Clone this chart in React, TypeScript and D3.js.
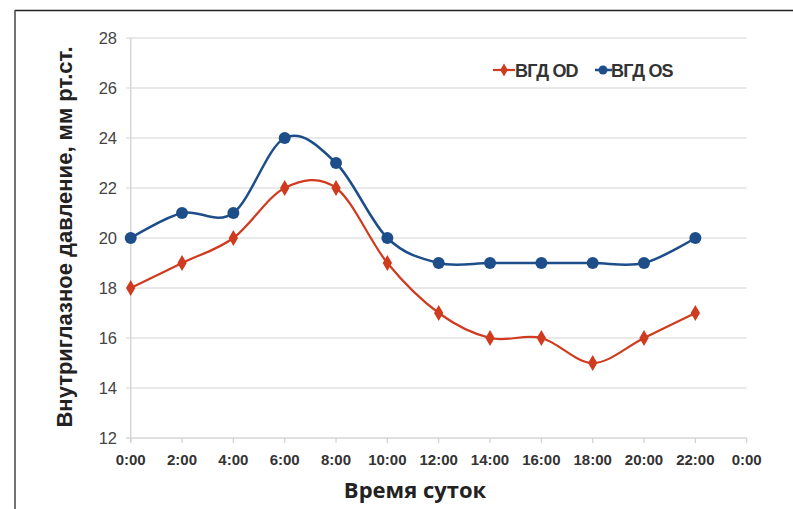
import React from "react";
import * as d3 from "d3";

const hours = [0, 2, 4, 6, 8, 10, 12, 14, 16, 18, 20, 22];
const xTickHours = [0, 2, 4, 6, 8, 10, 12, 14, 16, 18, 20, 22, 24];
const xTickLabels = ["0:00", "2:00", "4:00", "6:00", "8:00", "10:00", "12:00", "14:00", "16:00", "18:00", "20:00", "22:00", "0:00"];
const yTicks = [12, 14, 16, 18, 20, 22, 24, 26, 28];
const odValues = [18, 19, 20, 22, 22, 19, 17, 16, 16, 15, 16, 17];
const osValues = [20, 21, 21, 24, 23, 20, 19, 19, 19, 19, 19, 20];
const seriesNames = ["ВГД OD", "ВГД OS"];

const RED = "#D03A1E";
const BLUE = "#1E4E89";

export default function App() {
  const W = 793, H = 509;
  const x = d3.scaleLinear().domain([0, 24]).range([130.7, 746.7]);
  const y = d3.scaleLinear().domain([12, 28]).range([438, 38]);
  const line = d3
    .line<number>()
    .x((_, i) => x(hours[i]))
    .y((d) => y(d))
    .curve(d3.curveCardinal.tension(0));
  const diamond = d3.symbol().type(d3.symbolDiamond).size(75)();

  return (
    <svg width={W} height={H} style={{ position: "absolute", left: 0, top: 0, background: "#fff" }}>
      <rect x={0} y={0} width={W} height={H} fill="#fff" />
      {/* frame */}
      <line x1={15} y1={10.5} x2={W} y2={10.5} stroke="#222" strokeWidth={1.5} />
      <line x1={15} y1={10} x2={15} y2={H} stroke="#444" strokeWidth={1.5} />
      {/* gridlines */}
      {yTicks.map((t) => (
        <line key={"g" + t} x1={126} x2={746.7} y1={y(t)} y2={y(t)} stroke={t === 12 ? "#d6d6d6" : "#e2e2e2"} strokeWidth={1.5} />
      ))}
      {/* y axis */}
      <line x1={130.7} x2={130.7} y1={y(28)} y2={y(12) + 4} stroke="#d6d6d6" strokeWidth={1.5} />
      {xTickHours.map((h) => (
        <line key={"t" + h} x1={x(h)} x2={x(h)} y1={y(12)} y2={y(12) + 5} stroke="#d0d0d0" strokeWidth={1.2} />
      ))}
      {yTicks.map((t) => (
        <text key={"yl" + t} x={117} y={y(t) + 6} textAnchor="end" fontFamily="Liberation Sans, Arial, sans-serif" fontSize={16.5} fill="#444">
          {t}
        </text>
      ))}
      {xTickHours.map((h, i) => (
        <text key={"xl" + i} x={x(h)} y={464.5} textAnchor="middle" fontFamily="Liberation Sans, Arial, sans-serif" fontWeight="bold" fontSize={15} fill="#333">
          {xTickLabels[i]}
        </text>
      ))}
      {/* axis titles */}
      <text x={415} y={498} textAnchor="middle" fontFamily="Open Sans, sans-serif" fontWeight="bold" fontSize={22} fill="#222">
        Время суток
      </text>
      <text
        transform={`translate(72, 237) rotate(-90)`}
        textAnchor="middle"
        fontFamily="Liberation Sans, Arial, sans-serif"
        fontWeight="bold"
        fontSize={22}
        fill="#222"
      >
        Внутриглазное давление, мм рт.ст.
      </text>
      {/* series */}
      <path d={line(osValues) || ""} fill="none" stroke={BLUE} strokeWidth={2.5} />
      <path d={line(odValues) || ""} fill="none" stroke={RED} strokeWidth={2.2} />
      {osValues.map((v, i) => (
        <circle key={"os" + i} cx={x(hours[i])} cy={y(v)} r={6} fill={BLUE} />
      ))}
      {odValues.map((v, i) => (
        <path key={"od" + i} d={diamond || ""} transform={`translate(${x(hours[i])},${y(v)})`} fill={RED} />
      ))}
      {/* legend */}
      <g>
        <line x1={493} x2={515} y1={70} y2={70} stroke={RED} strokeWidth={2.2} />
        <path d={d3.symbol().type(d3.symbolDiamond).size(50)() || ""} transform="translate(504,70)" fill={RED} />
        <text x={515} y={76.5} fontFamily="Liberation Sans, Arial, sans-serif" fontWeight="bold" fontSize={18} fill="#333" letterSpacing={-0.8}>
          {seriesNames[0]}
        </text>
        <line x1={595} x2={612} y1={70} y2={70} stroke={BLUE} strokeWidth={2.5} />
        <circle cx={603} cy={70} r={4.5} fill={BLUE} />
        <text x={611} y={76.5} fontFamily="Liberation Sans, Arial, sans-serif" fontWeight="bold" fontSize={18} fill="#333" letterSpacing={-0.8}>
          {seriesNames[1]}
        </text>
      </g>
    </svg>
  );
}
